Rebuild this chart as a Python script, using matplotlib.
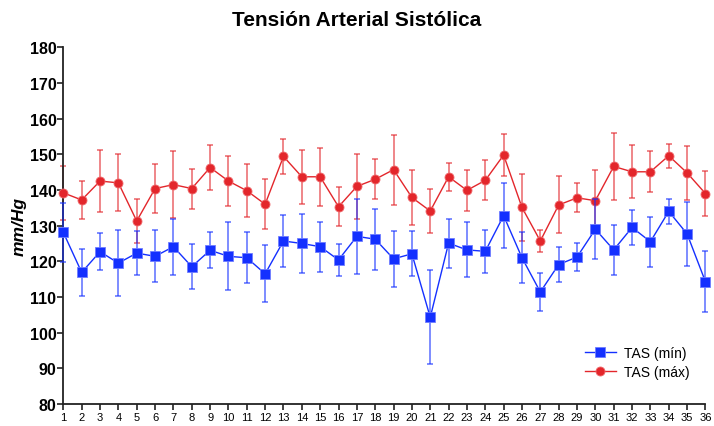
import matplotlib
matplotlib.use("Agg")
import matplotlib.pyplot as plt
import numpy as np

# Data
dias = np.arange(1, 37)

tas_min = [128.1, 116.9, 122.7, 119.5, 122.3, 121.4, 124.1, 118.5, 123.1, 121.4,
           121.0, 116.5, 125.7, 125.0, 124.1, 120.4, 127.0, 126.2, 120.7, 122.1,
           104.3, 125.1, 123.2, 122.8, 132.8, 121.0, 111.4, 119.1, 121.2, 129.0,
           123.2, 129.5, 125.5, 134.0, 127.7, 114.3]
err_min = [8.2, 6.6, 5.2, 9.3, 6.2, 7.3, 7.9, 6.3, 5.0, 9.5,
           7.1, 8.0, 7.2, 8.4, 7.0, 4.4, 10.5, 8.5, 7.8, 6.3,
           13.2, 6.9, 7.7, 6.0, 9.1, 7.1, 5.2, 5.0, 4.0, 8.4,
           6.9, 5.0, 7.0, 3.6, 9.0, 8.6]

tas_max = [139.2, 137.2, 142.5, 142.0, 131.3, 140.4, 141.5, 140.4, 146.3, 142.5,
           139.8, 136.0, 149.4, 143.7, 143.7, 135.3, 141.0, 143.0, 145.7, 137.9,
           134.1, 143.7, 139.9, 142.7, 149.8, 135.1, 125.7, 135.8, 137.8, 137.0,
           146.6, 145.1, 145.1, 149.6, 144.8, 139.0]
err_max = [7.6, 5.4, 8.6, 8.0, 6.2, 6.8, 9.4, 5.6, 6.2, 7.1,
           7.4, 7.0, 4.9, 7.6, 8.1, 5.5, 9.0, 5.6, 9.8, 7.6,
           6.1, 4.0, 5.7, 5.6, 5.8, 9.3, 3.2, 8.0, 4.1, 8.6,
           9.3, 7.4, 5.8, 3.4, 7.5, 6.4]

y_ticks = np.arange(80, 181, 10)

azul = '#1430ff'
rojo = '#e3262b'

plt.rcParams['font.family'] = ['Liberation Sans', 'DejaVu Sans']

fig = plt.figure(figsize=(7.14, 4.27), dpi=100)
ax = fig.add_axes([0.0887, 0.0515, 0.8993, 0.8354])

# Max series (red)
_, caps_r, bars_r = ax.errorbar(dias, tas_max, yerr=err_max, fmt='none',
                                ecolor=rojo, elinewidth=1.1, capsize=2, capthick=1.1,
                                alpha=0.7, zorder=2)
l_max, = ax.plot(dias, tas_max, color=rojo, lw=1.0, marker='o', markersize=6.5,
                 markerfacecolor=rojo, markeredgecolor='#f06a6d', markeredgewidth=0.6,
                 label='TAS (máx)', zorder=3, clip_on=False)

# Min series (blue)
_, caps_b, bars_b = ax.errorbar(dias, tas_min, yerr=err_min, fmt='none',
                                ecolor=azul, elinewidth=1.1, capsize=2, capthick=1.1,
                                alpha=0.7, zorder=4)
l_min, = ax.plot(dias, tas_min, color=azul, lw=1.0, marker='s', markersize=6.5,
                 markerfacecolor=azul, markeredgecolor='#6f7dff', markeredgewidth=0.6,
                 label='TAS (mín)', zorder=5, clip_on=False)

for artist in list(caps_r) + list(bars_r) + list(caps_b) + list(bars_b):
    artist.set_clip_on(False)

ax.set_xlim(1, 36)
ax.set_ylim(80, 180)
ax.set_xticks(dias)
ax.set_xticklabels([str(d) for d in dias], fontsize=8)
ax.set_yticks(y_ticks)
ax.set_yticklabels([str(v) for v in y_ticks], fontsize=11.5, fontweight='bold')
ax.tick_params(axis='both', direction='out', length=4, width=1.2, colors='#222222',
               labelcolor='black')
ax.tick_params(axis='x', pad=2)
ax.tick_params(axis='y', pad=1)

for side in ['top', 'right']:
    ax.spines[side].set_visible(False)
for side in ['left', 'bottom']:
    ax.spines[side].set_linewidth(1.3)
    ax.spines[side].set_color('#222222')

ax.set_ylabel('mm/Hg', fontsize=12.5, fontweight='bold', fontstyle='italic', labelpad=2)
fig.suptitle('Tensión Arterial Sistólica', fontsize=15, fontweight='bold', y=0.975)

ax.legend(handles=[l_min, l_max], loc='lower right', bbox_to_anchor=(0.995, 0.035),
          frameon=False, fontsize=10, handlelength=2.2, handletextpad=0.6,
          labelspacing=0.35)

fig.savefig('out.png', dpi=100)
